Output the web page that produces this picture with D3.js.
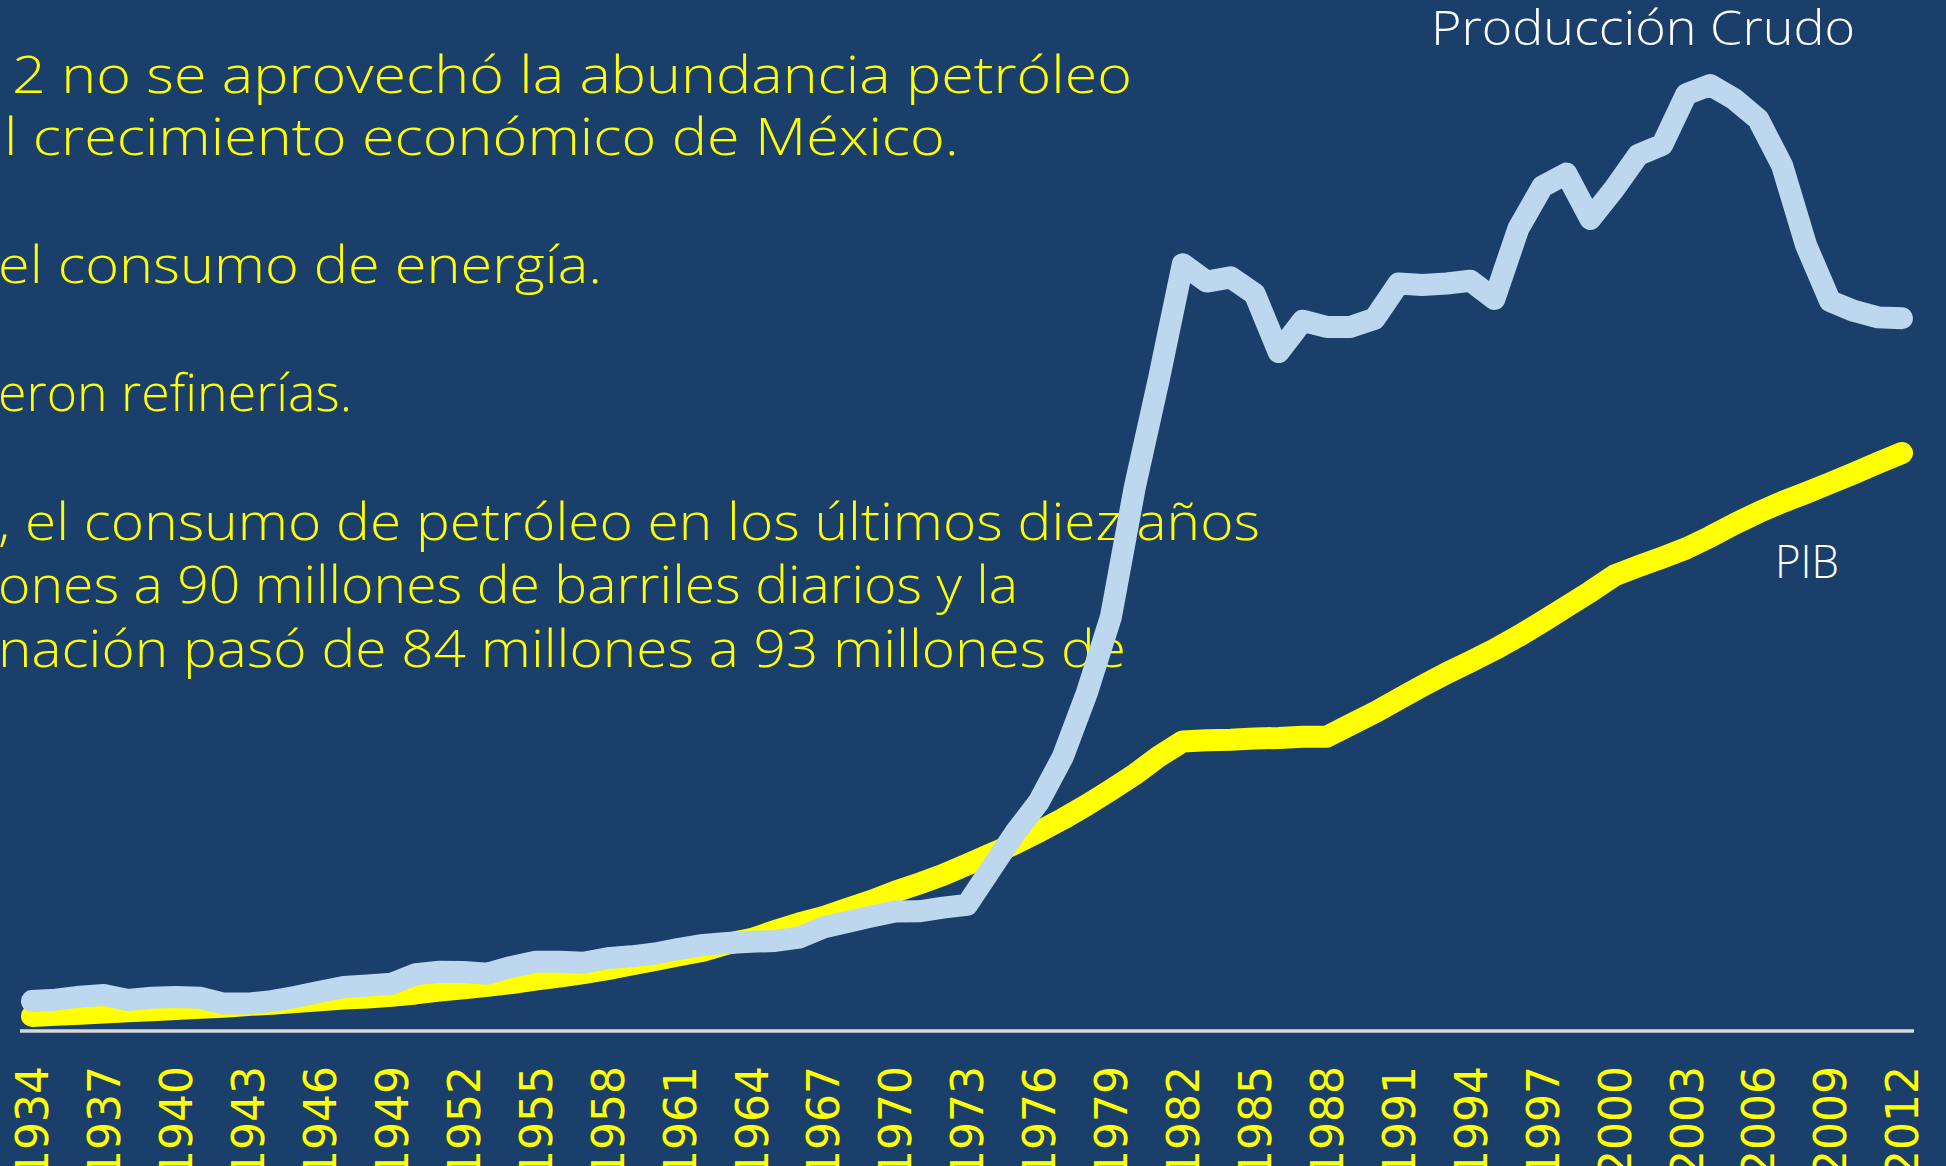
<!DOCTYPE html>
<html>
<head>
<meta charset="utf-8">
<script src="https://cdn.jsdelivr.net/npm/d3@7"></script>
<style>
  html, body { margin: 0; padding: 0; background: #1a3f6b; overflow: hidden; }
  svg { display: block; }
</style>
</head>
<body>
<div id="chart"></div>
<script>
// Años (categorías)
const years = [1934, 1935, 1936, 1937, 1938, 1939, 1940, 1941, 1942, 1943,
  1944, 1945, 1946, 1947, 1948, 1949, 1950, 1951, 1952, 1953,
  1954, 1955, 1956, 1957, 1958, 1959, 1960, 1961, 1962, 1963,
  1964, 1965, 1966, 1967, 1968, 1969, 1970, 1971, 1972, 1973,
  1974, 1975, 1976, 1977, 1978, 1979, 1980, 1981, 1982, 1983,
  1984, 1985, 1986, 1987, 1988, 1989, 1990, 1991, 1992, 1993,
  1994, 1995, 1996, 1997, 1998, 1999, 2000, 2001, 2002, 2003,
  2004, 2005, 2006, 2007, 2008, 2009, 2010, 2011, 2012];

// Producción de crudo (miles de barriles diarios)
const crudo = [107, 112, 123, 129, 111, 119, 122, 119, 98, 98,
  107, 122, 140, 157, 163, 169, 203, 212, 211, 205,
  229, 248, 248, 244, 260, 267, 277, 294, 308, 315,
  319, 322, 334, 370, 390, 409, 427, 428, 441, 451,
  580, 708, 820, 981, 1209, 1480, 1945, 2330, 2742, 2680,
  2695, 2636, 2428, 2540, 2518, 2518, 2547, 2673, 2668, 2673,
  2683, 2618, 2870, 3020, 3066, 2904, 3012, 3133, 3169, 3350,
  3383, 3333, 3261, 3095, 2810, 2610, 2575, 2552, 2549];

// PIB (índice, 2012 = 100)
const pib = [2.6, 2.8, 3.0, 3.2, 3.4, 3.6, 3.8, 4.0, 4.2, 4.5,
  4.7, 5.0, 5.3, 5.6, 5.8, 6.1, 6.5, 7.0, 7.4, 7.8,
  8.3, 8.9, 9.4, 10.0, 10.7, 11.5, 12.3, 13.1, 13.9, 15.1,
  15.9, 17.3, 18.6, 19.7, 21.1, 22.5, 24.1, 25.5, 27.0, 28.8,
  30.6, 32.4, 34.5, 36.7, 39.1, 41.7, 44.4, 47.5, 50.1, 50.3,
  50.4, 50.6, 50.7, 50.9, 50.9, 53.0, 55.1, 57.4, 59.7, 61.9,
  63.9, 66.0, 68.3, 70.8, 73.4, 76.0, 78.8, 80.4, 81.9, 83.5,
  85.5, 87.7, 89.7, 91.5, 93.1, 94.8, 96.5, 98.3, 100];

// Etiquetas del eje X
const tickYears = [1934, 1937, 1940, 1943, 1946, 1949, 1952, 1955, 1958, 1961,
  1964, 1967, 1970, 1973, 1976, 1979, 1982, 1985, 1988, 1991,
  1994, 1997, 2000, 2003, 2006, 2009, 2012];

// Texto de la diapositiva (recortado a la izquierda)
const textLines = [
  "2 no se aprovechó la abundancia petróleo",
  "l crecimiento económico de México.",
  "el consumo de energía.",
  "eron refinerías.",
  ", el consumo de petróleo en los últimos diez años",
  "ones a 90 millones de barriles diarios y la",
  "nación pasó de 84 millones a 93 millones de"
];

const width = 1946;
const height = 1166;
const axisY = 1031;

const data = years.map((y, i) => ({ year: y, crudo: crudo[i], pib: pib[i] }));

const svg = d3.select("#chart")
  .append("svg")
  .attr("width", width)
  .attr("height", height);

svg.append("rect")
  .attr("width", width)
  .attr("height", height)
  .style("fill", "#1a3f6b");

// Texto amarillo
const textLayout = [
  { x: 12, y: 93, w: 1120 },
  { x: 4, y: 155, w: 955 },
  { x: -2, y: 283, w: 604 },
  { x: -2, y: 411, w: 354 },
  { x: -2, y: 540, w: 1262 },
  { x: -2, y: 603, w: 1020 },
  { x: -2, y: 667, w: 1128 }
];

svg.append("g")
  .selectAll("text")
  .data(textLines)
  .join("text")
  .attr("x", (d, i) => textLayout[i].x)
  .attr("y", (d, i) => textLayout[i].y)
  .attr("textLength", (d, i) => textLayout[i].w)
  .attr("lengthAdjust", "spacingAndGlyphs")
  .style("font-family", "'Century Gothic', 'Open Sans', sans-serif")
  .style("font-weight", 300)
  .style("font-size", "52px")
  .style("fill", "#ffff00")
  .text(d => d);

// Escalas
const xScale = d3.scalePoint()
  .domain(years)
  .range([32, 1902]);

const yCrudo = d3.scaleLinear()
  .domain([0, 3383])
  .range([axisY, 85]);

const yPib = d3.scaleLinear()
  .domain([0, 100])
  .range([axisY, 453]);

// Eje X
const xAxis = svg.append("g")
  .attr("transform", `translate(0,${axisY})`)
  .call(d3.axisBottom(xScale).tickValues(tickYears).tickSize(0));

xAxis.select(".domain")
  .attr("d", "M20,0H1914")
  .style("stroke", "#d9d9d9")
  .style("stroke-width", 3.5);

xAxis.selectAll("text")
  .attr("transform", "rotate(-90)")
  .attr("x", -35)
  .attr("y", 0)
  .attr("dy", "0.36em")
  .style("text-anchor", "end")
  .style("font-family", "'DejaVu Sans', Verdana, sans-serif")
  .style("font-size", "44px")
  .style("fill", "#ffff00");

// Líneas
const linePib = d3.line()
  .x(d => xScale(d.year))
  .y(d => yPib(d.pib));

const lineCrudo = d3.line()
  .x(d => xScale(d.year))
  .y(d => yCrudo(d.crudo));

svg.append("path")
  .datum(data)
  .attr("d", linePib)
  .style("fill", "none")
  .style("stroke", "#ffff00")
  .style("stroke-width", 22)
  .style("stroke-linecap", "round")
  .style("stroke-linejoin", "round");

svg.append("path")
  .datum(data)
  .attr("d", lineCrudo)
  .style("fill", "none")
  .style("stroke", "#bdd7ee")
  .style("stroke-width", 22)
  .style("stroke-linecap", "round")
  .style("stroke-linejoin", "round");

// Etiquetas de las series
svg.append("text")
  .attr("x", 1431)
  .attr("y", 45)
  .attr("textLength", 424)
  .attr("lengthAdjust", "spacingAndGlyphs")
  .style("font-family", "'Open Sans', sans-serif")
  .style("font-weight", 300)
  .style("font-size", "48px")
  .style("fill", "#ffffff")
  .text("Producción Crudo");

svg.append("text")
  .attr("x", 1775)
  .attr("y", 578)
  .attr("textLength", 64)
  .attr("lengthAdjust", "spacingAndGlyphs")
  .style("font-family", "'Open Sans', sans-serif")
  .style("font-weight", 300)
  .style("font-size", "46px")
  .style("fill", "#ffffff")
  .text("PIB");
</script>
</body>
</html>
